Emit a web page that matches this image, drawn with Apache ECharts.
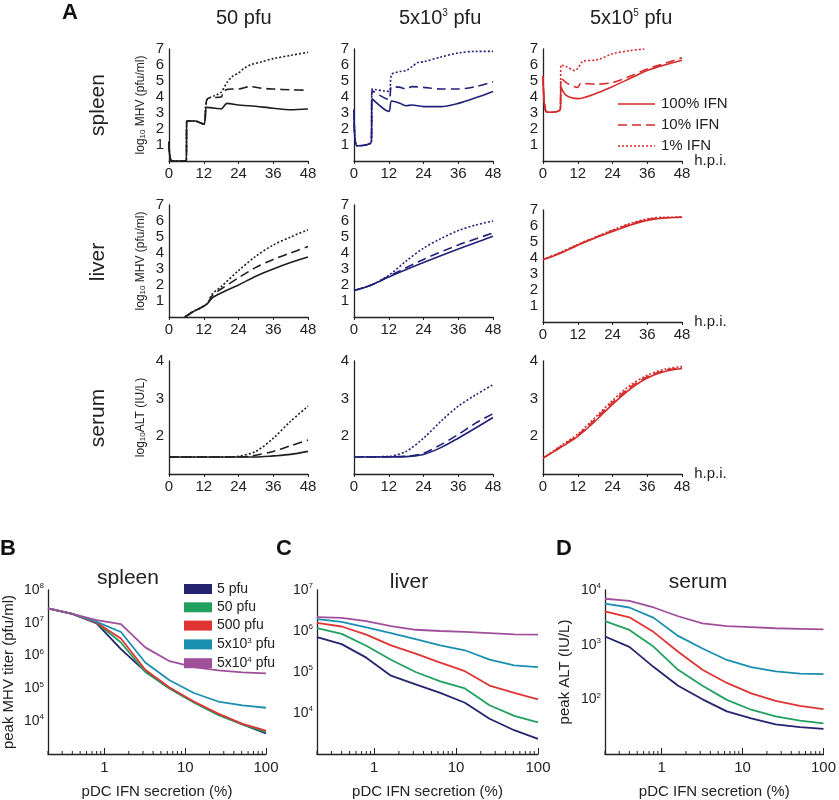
<!DOCTYPE html>
<html><head><meta charset="utf-8">
<script src="https://cdn.jsdelivr.net/npm/echarts@6/dist/echarts.min.js"></script>
<style>html,body{margin:0;background:#fff}#c{width:839px;height:800px}</style>
</head><body><div id="c"></div>
<script>
// ---------- Panel A data (hours, log10 values) ----------
const colTitles = ['50 pfu', '5x10{sup|3} pfu', '5x10{sup|5} pfu'];
const rowNames = ['spleen', 'liver', 'serum'];
const ifnNames = ['100% IFN', '10% IFN', '1% IFN'];
const xTicksA = [0, 12, 24, 36, 48];
// spleen
const sp50_100 = [[0,1.2],[1,0],[6,0],[6.1,2.5],[9,2.5],[12,2.3],[13,3.35],[16,3.3],[18,3.25],[20,3.6],[24,3.5],[28,3.45],[36,3.3],[42,3.2],[48,3.25]];
const sp50_10 = [[0,1.2],[1,0],[6,0],[6.1,2.5],[9,2.5],[12,2.3],[13,3.8],[14,3.95],[18,4.0],[19,4.4],[22,4.5],[24,4.5],[28,4.65],[32,4.55],[36,4.5],[42,4.45],[48,4.42]];
const sp50_1 = [[0,1.2],[1,0],[6,0],[6.1,2.5],[9,2.5],[12,2.3],[13,3.8],[16,4.1],[18,4.3],[20,4.9],[22,5.3],[24,5.5],[26,5.8],[28,6.0],[32,6.2],[36,6.4],[42,6.6],[48,6.8]];
const sp5k_100 = [[0,3.2],[1,0.95],[6,1.2],[6.2,3.9],[12,3.1],[13,3.75],[16,3.6],[18,3.45],[20,3.5],[24,3.4],[30,3.4],[36,3.6],[42,3.95],[48,4.35]];
const sp5k_10 = [[0,3.2],[1,0.95],[6,1.2],[6.2,4.4],[12,3.85],[13,4.65],[16,4.6],[18,4.5],[20,4.65],[24,4.6],[30,4.5],[36,4.5],[42,4.65],[48,4.95]];
const sp5k_1 = [[0,3.2],[1,0.95],[6,1.2],[6.2,4.5],[12,4.35],[13,5.4],[16,5.6],[18,5.65],[20,5.9],[22,6.15],[24,6.2],[30,6.5],[36,6.75],[42,6.85],[48,6.85]];
const sp5e5_100 = [[0,5.3],[1,3.1],[3,3.05],[6,3.25],[6.2,4.6],[8,4.1],[12,3.9],[18,4.2],[24,4.65],[30,5.15],[36,5.65],[42,6.0],[48,6.3]];
const sp5e5_10 = [[0,5.3],[1,3.1],[3,3.05],[6,3.25],[6.2,5.2],[8,4.9],[12,4.6],[13,4.85],[18,4.8],[24,4.9],[30,5.3],[36,5.75],[42,6.1],[48,6.45]];
const sp5e5_1 = [[0,5.3],[1,3.1],[3,3.05],[6,3.25],[6.2,6.0],[8,5.9],[11,5.65],[12,5.8],[14,6.25],[18,6.3],[20,6.4],[24,6.7],[30,6.9],[35,7.0]];
// liver
const lv50_100 = [[5.5,0],[8,0.3],[13,0.8],[15,1.2],[18,1.5],[24,2.0],[30,2.55],[36,3.0],[42,3.4],[48,3.75]];
const lv50_10 = [[5.5,0],[8,0.3],[13,0.8],[15,1.35],[18,1.75],[24,2.45],[30,3.1],[36,3.6],[42,4.0],[48,4.4]];
const lv50_1 = [[5.5,0],[8,0.3],[13,0.8],[15,1.45],[18,1.9],[24,2.9],[30,3.8],[36,4.5],[42,5.0],[48,5.45]];
const lv5k_100 = [[0,1.65],[6,2.0],[12,2.5],[24,3.4],[36,4.25],[48,5.05]];
const lv5k_10 = [[0,1.65],[6,2.0],[12,2.55],[24,3.6],[36,4.5],[48,5.25]];
const lv5k_1 = [[0,1.65],[6,2.0],[12,2.6],[18,3.5],[24,4.3],[30,4.9],[36,5.4],[42,5.75],[48,6.0]];
const lv5e5_100 = [[0,3.9],[6,4.3],[12,4.8],[18,5.25],[24,5.65],[30,6.05],[36,6.35],[42,6.5],[48,6.55]];
const lv5e5_10 = [[0,3.9],[6,4.32],[12,4.82],[18,5.28],[24,5.7],[30,6.1],[36,6.4],[42,6.52],[48,6.55]];
const lv5e5_1 = [[0,3.9],[6,4.35],[12,4.85],[18,5.3],[24,5.75],[30,6.15],[36,6.45],[42,6.55],[48,6.55]];
// serum
const se50_100 = [[0,1.45],[30,1.45],[36,1.48],[42,1.52],[48,1.6]];
const se50_10 = [[0,1.45],[24,1.45],[28,1.47],[36,1.6],[42,1.75],[48,1.9]];
const se50_1 = [[0,1.45],[20,1.45],[24,1.47],[30,1.6],[36,1.95],[42,2.4],[48,2.8]];
const se5k_100 = [[0,1.45],[18,1.46],[24,1.52],[30,1.7],[36,1.95],[42,2.22],[48,2.5]];
const se5k_10 = [[0,1.45],[18,1.47],[24,1.55],[30,1.78],[36,2.05],[42,2.35],[48,2.6]];
const se5k_1 = [[0,1.45],[12,1.47],[18,1.6],[24,1.95],[30,2.4],[36,2.8],[42,3.1],[48,3.37]];
const se5e5_100 = [[0,1.42],[6,1.7],[12,2.0],[18,2.4],[24,2.85],[30,3.25],[36,3.55],[42,3.72],[48,3.8]];
const se5e5_10 = [[0,1.42],[6,1.72],[12,2.03],[18,2.45],[24,2.9],[30,3.3],[36,3.58],[42,3.75],[48,3.82]];
const se5e5_1 = [[0,1.42],[6,1.74],[12,2.06],[18,2.5],[24,2.95],[30,3.35],[36,3.62],[42,3.78],[48,3.85]];

// ---------- Panels B-D data (pDC IFN %, log10 peak) ----------
const ifnPct = [0.2,0.4,0.8,1.6,3.2,6.4,12.8,25.6,51.2,100];
const doseNames = ['5 pfu','50 pfu','500 pfu','5x10{sup|3} pfu','5x10{sup|4} pfu'];
const B5 = [7.44,7.27,6.98,6.2,5.52,5.0,4.58,4.2,3.9,3.63];
const B50 = [7.44,7.27,7.0,6.4,5.5,5.0,4.57,4.19,3.9,3.67];
const B500 = [7.44,7.27,7.0,6.52,5.57,5.03,4.6,4.23,3.92,3.71];
const B5k = [7.44,7.27,7.03,6.72,5.79,5.25,4.86,4.6,4.48,4.41];
const B50k = [7.44,7.27,7.08,6.96,6.25,5.83,5.65,5.55,5.49,5.46];
const C5 = [5.85,5.68,5.35,4.91,4.7,4.49,4.25,3.86,3.58,3.37];
const C50 = [6.07,5.93,5.64,5.3,5.0,4.77,4.6,4.19,3.93,3.77];
const C500 = [6.2,6.11,5.91,5.65,5.45,5.23,5.02,4.67,4.49,4.33];
const C5k = [6.29,6.22,6.09,5.95,5.8,5.65,5.53,5.3,5.16,5.12];
const C50k = [6.34,6.32,6.24,6.12,6.03,6.0,5.98,5.95,5.92,5.91];
const D5 = [3.15,2.96,2.59,2.25,2.0,1.78,1.65,1.54,1.49,1.46];
const D50 = [3.43,3.27,2.96,2.54,2.25,1.99,1.81,1.69,1.61,1.56];
const D500 = [3.61,3.5,3.23,2.87,2.54,2.3,2.11,1.97,1.88,1.82];
const D5k = [3.75,3.68,3.49,3.16,2.93,2.72,2.59,2.51,2.47,2.46];
const D50k = [3.84,3.8,3.68,3.52,3.39,3.34,3.32,3.3,3.29,3.28];

const F = "'Liberation Sans Narrow','Liberation Sans',Arial,sans-serif";
const FA = "'Liberation Sans',Arial,sans-serif";
const colA = ['#1e1e1e','#20207a','#d42a2a'];
const colD = ['#24246e','#22a060','#e03434','#1a8fb0','#a04f9a'];
const types = ['solid',[9,5],[2,2]];

const grids=[], xAxes=[], yAxes=[], series=[], graphics=[];
const lefts=[169,354,543], W=139;
const tops=[[49,49,49],[205,205,210],[361,361,361]];
const H=[112,112,113];
const Adata = [
 [[sp50_100,sp50_10,sp50_1],[sp5k_100,sp5k_10,sp5k_1],[sp5e5_100,sp5e5_10,sp5e5_1]],
 [[lv50_100,lv50_10,lv50_1],[lv5k_100,lv5k_10,lv5k_1],[lv5e5_100,lv5e5_10,lv5e5_1]],
 [[se50_100,se50_10,se50_1],[se5k_100,se5k_10,se5k_1],[se5e5_100,se5e5_10,se5e5_1]]];
const sub = {sub:{fontSize:8,verticalAlign:'bottom',padding:[4,0,0,0],fontFamily:FA,color:'#222'}};
let gi=0;
for(let r=0;r<3;r++)for(let c=0;c<3;c++){
  grids.push({left:lefts[c],top:tops[r][c],width:W,height:H[r]});
  xAxes.push({type:'value',gridIndex:gi,min:0,max:48,interval:12,
    name:c===2?'h.p.i.':'',nameGap:8,nameTextStyle:{fontFamily:F,fontSize:15,color:'#222',verticalAlign:'middle',padding:[6,0,0,0]},
    axisLine:{lineStyle:{color:'#222',width:1.3}},axisTick:{show:true,length:3,lineStyle:{color:'#222'}},
    splitLine:{show:false},axisLabel:{fontFamily:F,fontSize:15,color:'#222',margin:5}});
  const isSerum=r===2;
  let yname='';
  if(c===0){ yname = isSerum ? 'log{sub|10}ALT (IU/L)' : 'log{sub|10} MHV (pfu/ml)'; }
  yAxes.push({type:'value',gridIndex:gi,min:isSerum?1:0,max:isSerum?4:7,interval:1,
    name:yname,nameLocation:'middle',nameGap:22,nameRotate:90,
    nameTextStyle:{fontFamily:FA,fontSize:12,color:'#222',rich:sub},
    axisLine:{show:true,onZero:false,lineStyle:{color:'#222',width:1.3}},axisTick:{show:false},splitLine:{show:false},
    axisLabel:{fontFamily:F,fontSize:15,color:'#222',margin:5,formatter:v=>(v===(isSerum?1:0)?'':String(v))}});
  for(let k=0;k<3;k++){
    series.push({type:'line',name:ifnNames[k],xAxisIndex:gi,yAxisIndex:gi,
      data:Adata[r][c][k],showSymbol:false,symbol:'none',smooth:0.3,clip:true,
      lineStyle:{color:colA[c],width:1.6,type:types[k]},itemStyle:{color:colA[c]},z:3-k});
  }
  gi++;
}
// B, C, D
const bLefts=[46,317,605], bW=[220,221,221];
const yr=[[3,8],[3,7],[1,4]];
const bD=[[B5,B50,B500,B5k,B50k],[C5,C50,C500,C5k,C50k],[D5,D50,D500,D5k,D50k]];
const minorX=[];
[-1,0,1].forEach(e=>{for(let m=2;m<=9;m++){const v=Math.log10(m)+e; if(v>Math.log10(0.2)-1e-9&&v<2)minorX.push(v);}});
for(let p=0;p<3;p++){
  grids.push({left:bLefts[p],top:590,width:bW[p],height:170});
  xAxes.push({type:'value',gridIndex:gi,min:Math.log10(0.2),max:2,
    name:'pDC IFN secretion (%)',nameLocation:'middle',nameGap:30,nameTextStyle:{fontFamily:FA,fontSize:15,color:'#222'},
    axisLine:{onZero:false,lineStyle:{color:'#222',width:1.3}},
    axisTick:{show:true,inside:true,length:6,customValues:[0,1,2],lineStyle:{color:'#222'}},
    minorTick:{show:false},splitLine:{show:false},
    axisLabel:{customValues:[0,1,2],fontFamily:FA,fontSize:15,color:'#222',margin:6,formatter:v=>String(Math.round(Math.pow(10,v)))}});
  yAxes.push({type:'value',gridIndex:gi,min:yr[p][0],max:yr[p][1],interval:1,
    name:p===0?'peak MHV titer (pfu/ml)':(p===2?'peak ALT (IU/L)':''),nameLocation:'middle',nameGap:p===0?32:33,
    nameTextStyle:{fontFamily:FA,fontSize:15,color:'#222'},
    axisLine:{show:true,onZero:false,lineStyle:{color:'#222',width:1.3}},axisTick:{show:false},splitLine:{show:false},
    axisLabel:{fontFamily:FA,fontSize:14,color:'#222',margin:4,
      formatter:v=>(v===yr[p][0]?'':'10{sup|'+v+'}'),
      rich:{sup:{fontSize:8,verticalAlign:'top',padding:[0,0,8,0],fontFamily:FA,color:'#222'}}}});
  for(let k=0;k<5;k++){
    series.push({type:'line',name:doseNames[k],xAxisIndex:gi,yAxisIndex:gi,
      data:ifnPct.map((x,i)=>[Math.log10(x),bD[p][k][i]]),showSymbol:false,symbol:'none',
      lineStyle:{color:colD[k],width:1.8},itemStyle:{color:colD[k]}});
  }
  gi++;
}
const supR={sup:{fontSize:10,verticalAlign:'top',padding:[0,0,10,0],fontFamily:FA,fill:'#222'}};
graphics.push({type:'text',left:62,top:2,style:{text:'A',fontFamily:FA,fontSize:22,fontWeight:'bold',fill:'#111'}});
graphics.push({type:'text',left:0,top:538,style:{text:'B',fontFamily:FA,fontSize:22,fontWeight:'bold',fill:'#111'}});
graphics.push({type:'text',left:276,top:538,style:{text:'C',fontFamily:FA,fontSize:22,fontWeight:'bold',fill:'#111'}});
graphics.push({type:'text',left:556,top:538,style:{text:'D',fontFamily:FA,fontSize:22,fontWeight:'bold',fill:'#111'}});
colTitles.forEach((t,i)=>graphics.push({type:'text',x:[216,399,590][i],y:8,style:{text:t,fontFamily:FA,fontSize:20,fill:'#222',rich:supR,align:'left'}}));
[[98,105],[98,262],[98,418]].forEach((p,i)=>graphics.push({type:'text',x:p[0],y:p[1],rotation:Math.PI/2,
  style:{text:rowNames[i],fontFamily:FA,fontSize:21,fill:'#222',align:'center',verticalAlign:'middle'}}));
[['spleen',128,578],['liver',409,582],['serum',698,582]].forEach(a=>graphics.push({type:'text',x:a[1],y:a[2],
  style:{text:a[0],fontFamily:FA,fontSize:21,fill:'#222',align:'center',verticalAlign:'middle'}}));
// legend for panel A (line samples drawn as graphics, labels from ifnNames)
[104,125,146].forEach((y,k)=>{
  graphics.push({type:'line',shape:{x1:618,y1:y,x2:655,y2:y},style:{stroke:colA[2],lineWidth:1.6,lineDash:k===0?null:types[k]}});
  graphics.push({type:'text',x:661,y:y,style:{text:ifnNames[k],fontFamily:F,fontSize:15,fill:'#222',verticalAlign:'middle'}});
});

const option={animation:false,backgroundColor:'#fff',grid:grids,xAxis:xAxes,yAxis:yAxes,series:series,graphic:graphics,
  legend:{data:doseNames,orient:'vertical',left:179,top:577,itemWidth:28,itemHeight:10,itemGap:4.3,icon:'rect',
    itemStyle:{borderWidth:0},
    textStyle:{fontFamily:FA,fontSize:14,color:'#222',rich:{sup:{fontSize:8,verticalAlign:'top',padding:[0,0,7,0],fontFamily:FA,color:'#222'}}}}
};
const chart=echarts.init(document.getElementById('c'));
chart.setOption(option);
const mt=[];
for(let p=0;p<3;p++){
  const g=9+p;
  minorX.forEach(v=>{
    const pt=chart.convertToPixel({xAxisIndex:g,yAxisIndex:g},[v,yr[p][0]]);
    mt.push({type:'line',shape:{x1:pt[0],y1:pt[1],x2:pt[0],y2:pt[1]-3},style:{stroke:'#222',lineWidth:1}});
  });
}
chart.setOption({graphic:graphics.concat(mt)});
</script></body></html>
